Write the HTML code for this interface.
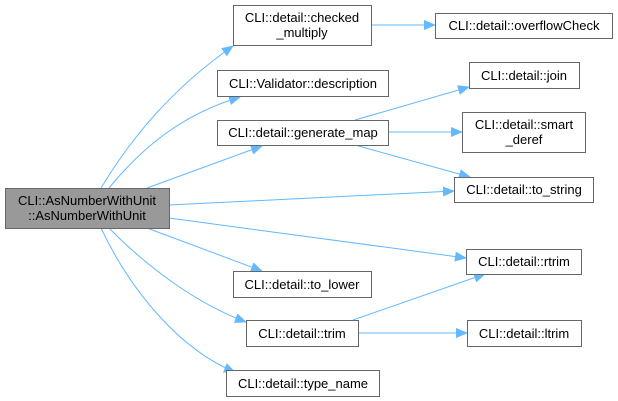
<!DOCTYPE html>
<html><head><meta charset="utf-8"><style>
html,body{margin:0;padding:0;background:#fff;}
svg{display:block;}
text{font-family:"Liberation Sans",Arial,sans-serif;font-size:13px;fill:#000;}
rect{stroke:#666;stroke-width:1;}
path{fill:none;stroke:#63b8ff;stroke-width:1;}
</style></head><body>
<svg width="618" height="401" viewBox="0 0 618 401" xmlns="http://www.w3.org/2000/svg">
<defs><marker id="a" markerWidth="12" markerHeight="10" refX="11" refY="5" orient="auto" markerUnits="userSpaceOnUse"><polygon points="0,0 12,5 0,10" fill="#63b8ff"/></marker></defs>
<path d="M101,188 C130,140 170,90 233,46" marker-end="url(#a)"/>
<path d="M109,188 C140,150 180,115 240,97" marker-end="url(#a)"/>
<path d="M147,188 L262,146" marker-end="url(#a)"/>
<path d="M169,205 L454,191" marker-end="url(#a)"/>
<path d="M169,218 L466,258" marker-end="url(#a)"/>
<path d="M147,228 L262,271" marker-end="url(#a)"/>
<path d="M109,228 C150,270 200,305 246,322" marker-end="url(#a)"/>
<path d="M101,228 C130,290 180,350 235,372" marker-end="url(#a)"/>
<path d="M371,25 L435,25" marker-end="url(#a)"/>
<path d="M355,120 L469,87" marker-end="url(#a)"/>
<path d="M388,132 L462,132" marker-end="url(#a)"/>
<path d="M355,145 L470,177" marker-end="url(#a)"/>
<path d="M353,320 L485,274" marker-end="url(#a)"/>
<path d="M358,333 L467,333" marker-end="url(#a)"/>
<rect x="5.5" y="188.5" width="164" height="40" fill="#999"/>
<text x="87" y="205" text-anchor="middle">CLI::AsNumberWithUnit</text>
<text x="87" y="220" text-anchor="middle">::AsNumberWithUnit</text>
<rect x="233.5" y="5.5" width="138" height="40" fill="#fff"/>
<text x="302" y="22" text-anchor="middle">CLI::detail::checked</text>
<text x="302" y="37" text-anchor="middle">_multiply</text>
<rect x="217.5" y="70.5" width="171" height="26" fill="#fff"/>
<text x="303" y="88" text-anchor="middle">CLI::Validator::description</text>
<rect x="217.5" y="120.5" width="171" height="25" fill="#fff"/>
<text x="303" y="137" text-anchor="middle">CLI::detail::generate_map</text>
<rect x="435.5" y="13.5" width="177" height="25" fill="#fff"/>
<text x="524" y="30" text-anchor="middle">CLI::detail::overflowCheck</text>
<rect x="469.5" y="62.5" width="110" height="26" fill="#fff"/>
<text x="524" y="80" text-anchor="middle">CLI::detail::join</text>
<rect x="462.5" y="112.5" width="123" height="40" fill="#fff"/>
<text x="524" y="129" text-anchor="middle">CLI::detail::smart</text>
<text x="524" y="144" text-anchor="middle">_deref</text>
<rect x="454.5" y="177.5" width="139" height="25" fill="#fff"/>
<text x="524" y="194" text-anchor="middle">CLI::detail::to_string</text>
<rect x="466.5" y="249.5" width="115" height="25" fill="#fff"/>
<text x="524" y="266" text-anchor="middle">CLI::detail::rtrim</text>
<rect x="233.5" y="271.5" width="138" height="26" fill="#fff"/>
<text x="302" y="289" text-anchor="middle">CLI::detail::to_lower</text>
<rect x="246.5" y="320.5" width="112" height="26" fill="#fff"/>
<text x="302" y="338" text-anchor="middle">CLI::detail::trim</text>
<rect x="467.5" y="320.5" width="114" height="26" fill="#fff"/>
<text x="524" y="338" text-anchor="middle">CLI::detail::ltrim</text>
<rect x="226.5" y="370.5" width="153" height="26" fill="#fff"/>
<text x="303" y="388" text-anchor="middle">CLI::detail::type_name</text>
</svg>
</body></html>
